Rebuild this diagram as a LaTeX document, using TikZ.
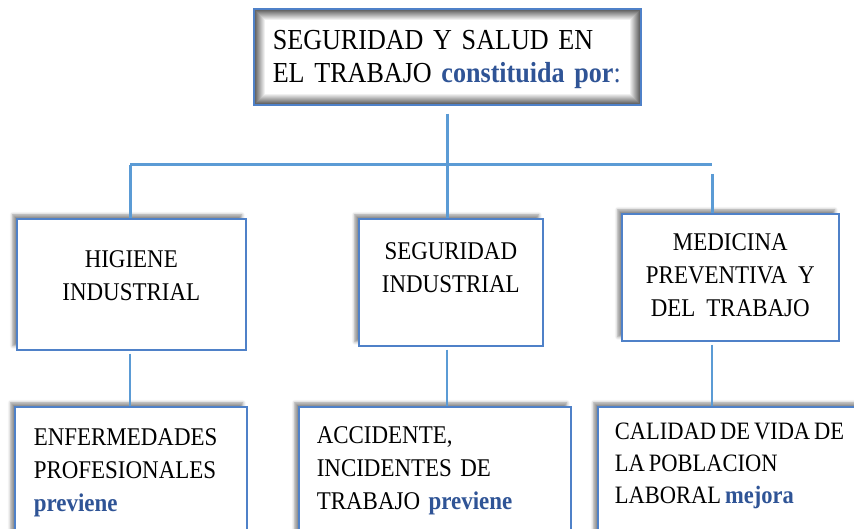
\documentclass[tikz,border=0pt]{standalone}
\usepackage{fontspec}
\setmainfont[FakeStretch=0.9]{Liberation Serif}
\usepackage{tikz}
\usetikzlibrary{shadows.blur}

\definecolor{bordeazul}{RGB}{79,129,200}
\definecolor{lineaazul}{RGB}{91,155,213}
\definecolor{textoazul}{RGB}{47,84,150}

\newcommand{\verbo}[1]{{\color{textoazul}\bfseries #1}}

\begin{document}
\begin{tikzpicture}[x=1pt,y=1pt]
    	\tikzstyle{caja} = 
    	[draw = bordeazul,
    	line width = 1.6pt,
    	fill = white,
    	inner ysep = 0pt,
    	anchor = north west,
    	font = \fontsize{25.5}{33}\selectfont,
    	]
    	\tikzstyle{sombra} = 
    	[blur shadow = {shadow xshift=-4pt, shadow yshift=4pt, shadow blur radius=3pt, shadow opacity=45}
    	]
    	\tikzstyle{sombrainterior} = 
    	[path picture = {
    		\foreach \i [evaluate=\i as \g using 66-6*\i] in {0,...,11}
    			\draw[black!\g, line width=1.2pt]
    			([shift={(\i+0.6,-\i-0.6)}]path picture bounding box.north west)
    			rectangle
    			([shift={(-\i-0.6,\i+0.6)}]path picture bounding box.south east);
    		}
    	]
    	\tikzstyle{conector} = 
    	[draw = lineaazul,
    	line width = 3pt
    	]
    	\tikzstyle{conectorfino} = 
    	[draw = lineaazul,
    	line width = 2pt,
    	shorten <= 3pt
    	]

        \useasboundingbox (0,0) rectangle (854,-529);
        \clip (0,0) rectangle (854,-529);

        % titulo
        \node[caja, sombrainterior, font=\fontsize{29}{33}\selectfont,
        	inner xsep=19pt, text width=349pt, align=left,
        	text height=41pt, text depth=55pt]
        	(tope) at (253,-8)
        	{SEGURIDAD Y SALUD EN\\EL TRABAJO \verbo{constituida por}{\color{textoazul}:}};

        % ramas
        \node[caja, sombra, inner xsep=5pt, text width=219pt, align=center,
        	text height=49pt, text depth=82pt]
        	(hig) at (16,-218)
        	{HIGIENE\\INDUSTRIAL};
        \node[caja, sombra, inner xsep=5pt, text width=174pt, align=center,
        	text height=41pt, text depth=86pt]
        	(seg) at (358,-218)
        	{SEGURIDAD\\INDUSTRIAL};
        \node[caja, sombra, inner xsep=5pt, text width=207pt, align=center,
        	text height=37pt, text depth=90pt]
        	(med) at (621,-213)
        	{MEDICINA\\PREVENTIVA\hspace{11pt}Y\\DEL\hspace{11pt}TRABAJO};

        % resultados
        \node[caja, sombra, inner xsep=19pt, text width=194pt, align=left,
        	text height=39pt, text depth=101pt]
        	(enf) at (14,-406)
        	{ENFERMEDADES\\PROFESIONALES\\\verbo{previene}};
        \node[caja, sombra, inner xsep=18pt, text width=236pt, align=left,
        	text height=37pt, text depth=103pt]
        	(acc) at (298,-406)
        	{ACCIDENTE,\\INCIDENTES DE\\TRABAJO \verbo{previene}};
        \node[caja, sombra, inner xsep=17pt, text width=246pt, align=left,
        	text height=33pt, text depth=107pt,
        	font=\fontsize{25}{32}\selectfont]
        	(cal) at (597,-406)
        	{\spaceskip=4pt plus 1pt\relax
        	CALIDAD DE VIDA DE\\LA POBLACION\\LABORAL \verbo{mejora}};

        \coordinate (nudo) at (447,-165);
        \coordinate (xL) at (130,-165);
        \coordinate (xR) at (712,-165);

        \draw[conector, shorten <=8pt] (tope.south -| nudo) -- (nudo);
        \draw[conector] (xL) -- (xR);
        \draw[conector] (xL) -- (xL |- hig.north);
        \draw[conector] (nudo) -- (nudo |- seg.north);
        \draw[conector, shorten <=9pt] (xR) -- (xR |- med.north);

        \draw[conectorfino] (xL |- hig.south) -- (xL |- enf.north);
        \draw[conectorfino] (nudo |- seg.south) -- (nudo |- acc.north);
        \draw[conectorfino] (xR |- med.south) -- (xR |- cal.north);
    \end{tikzpicture}
\end{document}
